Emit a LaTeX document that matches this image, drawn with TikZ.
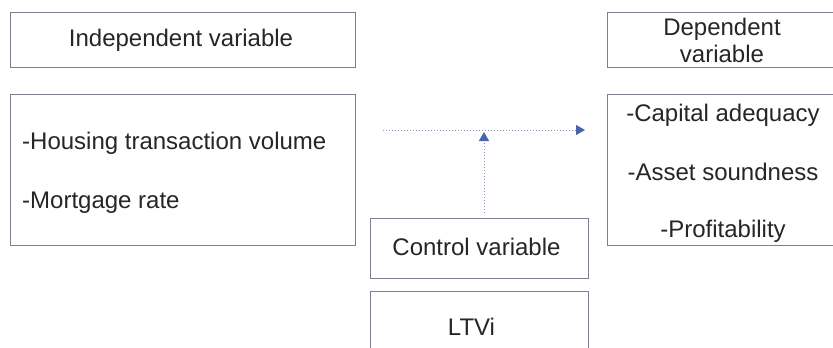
\documentclass[tikz,border=0pt]{standalone}
\usepackage{fontspec}
\setmainfont{Liberation Sans}
\usetikzlibrary{arrows.meta}

\definecolor{boxline}{HTML}{7A8090}
\definecolor{flowline}{HTML}{8A98B8}
\definecolor{flowhead}{HTML}{4666AA}

\begin{document}
\begin{tikzpicture}[x=1pt,y=-1pt,
		box/.style={draw=boxline, line width=.9pt, inner sep=0pt},
		lbl/.style={font=\fontsize{24}{28}\selectfont, text=black!85, inner sep=0pt, anchor=base},
		flow/.style={draw=flowline, line width=1pt, dash pattern=on 1pt off 2pt,
			-{Triangle[length=9pt,width=10pt,color=flowhead,fill=flowhead]}}]
		\useasboundingbox[fill=white] (0,0) rectangle (833,348);
		% boxes
		\node[box, minimum width=345, minimum height=55] (indep) at (182.5,39.5) {};
		\node[box, minimum width=345, minimum height=151] (indeplist) at (182.5,169.5) {};
		\node[box, minimum width=230, minimum height=55] (dep) at (722,39.5) {};
		\node[box, minimum width=230, minimum height=151] (deplist) at (722,169.5) {};
		\node[box, minimum width=218, minimum height=60] (ctrl) at (479,248) {};
		\node[box, minimum width=218, minimum height=60] (ltv) at (479,321) {};
		%
		\node[lbl] (indeptxt) at (181,46) {Independent variable};
		\node[lbl, anchor=base west] (housing) at (22,149) {-Housing transaction volume};
		\node[lbl, anchor=base west] (mortgage) at (22,208) {-Mortgage rate};
		\node[lbl] (deptxt) at (722,35) {Dependent};
		\node[lbl] (deptxtb) at (722,62) {variable};
		\node[lbl] (capital) at (723,121) {-Capital adequacy};
		\node[lbl] (asset) at (723,180) {-Asset soundness};
		\node[lbl] (profit) at (723,237) {-Profitability};
		\node[lbl] (ctrltxt) at (476.5,255) {Control variable};
		\node[lbl] (ltvtxt) at (471.5,335) {LTVi};
		% arrows
		\coordinate (hstart) at (383,130);
		\coordinate (hend) at (585,130);
		\coordinate (vtip) at (484,132);
		\draw[flow] (hstart) -- (hend);
		\draw[flow] ([yshift=5]ctrl.north -| vtip) -- (vtip);
	\end{tikzpicture}
\end{document}
